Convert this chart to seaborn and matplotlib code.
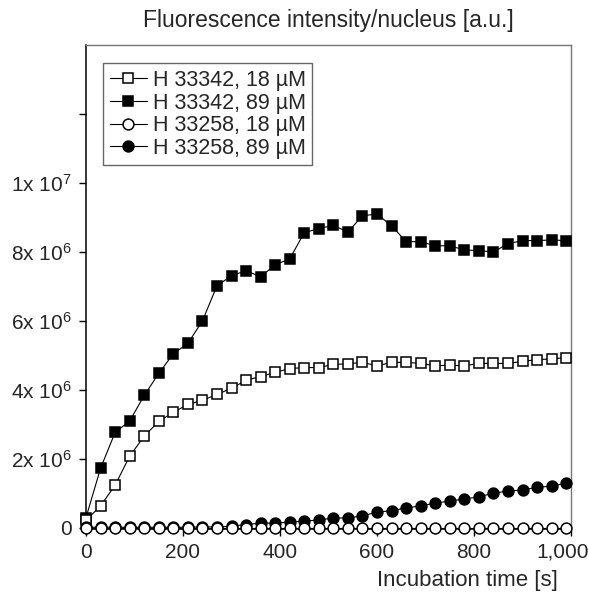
import numpy as np
import pandas as pd
import seaborn as sns
import matplotlib.pyplot as plt
import matplotlib.transforms as mtransforms

# incubation time [s]
time_s = [0, 30, 60, 90, 120, 150, 180, 210, 240, 270, 300, 330, 360, 390, 420, 450, 480,
          510, 540, 570, 600, 630, 660, 690, 720, 750, 780, 810, 840, 870, 900, 930, 960, 990]

# fluorescence intensity per nucleus, in units of 1e6 a.u.
h33342_18 = [0.22, 0.64, 1.24, 2.08, 2.66, 3.09, 3.35, 3.58, 3.70, 3.87, 4.05, 4.28, 4.39, 4.51,
             4.62, 4.65, 4.65, 4.74, 4.76, 4.80, 4.70, 4.80, 4.80, 4.77, 4.70, 4.72, 4.70, 4.77,
             4.77, 4.77, 4.83, 4.88, 4.90, 4.94]
h33342_89 = [0.30, 1.73, 2.77, 3.10, 3.84, 4.48, 5.05, 5.35, 6.00, 7.02, 7.31, 7.46, 7.28, 7.63,
             7.80, 8.56, 8.68, 8.77, 8.58, 9.05, 9.10, 8.76, 8.30, 8.30, 8.18, 8.18, 8.06, 8.04,
             8.00, 8.24, 8.33, 8.33, 8.35, 8.33]
h33258_18 = [0.0] * 34
h33258_89 = [0.02, 0.02, 0.02, 0.02, 0.02, 0.02, 0.02, 0.02, 0.03, 0.03, 0.05, 0.10, 0.14, 0.14,
             0.17, 0.20, 0.23, 0.29, 0.29, 0.35, 0.46, 0.50, 0.58, 0.64, 0.72, 0.78, 0.84, 0.90,
             1.01, 1.07, 1.10, 1.18, 1.21, 1.30]

labels = ["H 33342, 18 µM", "H 33342, 89 µM", "H 33258, 18 µM", "H 33258, 89 µM"]
y_ticks = [0, 2, 4, 6, 8, 10, 12]
y_tick_labels = ["0", r"2x 10$^6$", r"4x 10$^6$", r"6x 10$^6$", r"8x 10$^6$", r"1x 10$^7$", ""]
x_ticks = [0, 200, 400, 600, 800, 1000]
x_tick_labels = ["0", "200", "400", "600", "800", "1,000"]

sns.set_style("white")
plt.rcParams['font.family'] = ['Liberation Sans', 'DejaVu Sans']
plt.rcParams['mathtext.fontset'] = 'custom'
plt.rcParams['mathtext.rm'] = 'Liberation Sans'
plt.rcParams['mathtext.it'] = 'Liberation Sans'

fig = plt.figure(figsize=(5.89, 5.94), dpi=100)
ax = fig.add_axes([86 / 589, 1 - 529 / 594, 485 / 589, 484 / 594])

series = [
    (h33342_18, "s", "white", 4),
    (h33342_89, "s", "black", 3),
    (h33258_18, "o", "white", 5),
    (h33258_89, "o", "black", 4),
]
for (vals, mk, fc, z), lab in zip(series, labels):
    sns.lineplot(x=time_s, y=vals, ax=ax, color="black", lw=0.8, marker=mk, markersize=7.8,
                 markerfacecolor=fc, markeredgecolor="black", markeredgewidth=1.1,
                 label=lab, clip_on=False, zorder=z)

ax.set_xlim(0, 1000)
ax.set_ylim(-0.03, 14.0)
ax.set_xticks(x_ticks)
ax.set_xticklabels(x_tick_labels, fontsize=15)
ax.set_yticks(y_ticks)
ax.set_yticklabels(y_tick_labels, fontsize=15)
ax.tick_params(axis="both", direction="out", length=5, width=1, color="black",
               left=True, bottom=True, pad=5)

# last x label sits against the right edge of the figure
last = ax.get_xticklabels()[-1]
last.set_transform(last.get_transform() +
                   mtransforms.ScaledTranslation(-8 / 100, 0, fig.dpi_scale_trans))

for s in ["left", "bottom"]:
    ax.spines[s].set_color("black")
    ax.spines[s].set_linewidth(1.1)
for s in ["top", "right"]:
    ax.spines[s].set_color("#777777")
    ax.spines[s].set_linewidth(1.0)

ax.set_title("Fluorescence intensity/nucleus [a.u.]", fontsize=16.5, pad=13)
ax.set_xlabel("Incubation time [s]", fontsize=16, ha="right")
ax.xaxis.set_label_coords((558 - 86) / 485, -0.085)

ax.legend(loc="upper left", bbox_to_anchor=(0.036, 0.962), borderaxespad=0, fontsize=15.5,
          frameon=True, fancybox=False, edgecolor="#666666", framealpha=1,
          handlelength=1.7, handletextpad=0.3, labelspacing=0.08, borderpad=0.3)

fig.savefig("out.png", dpi=100)
